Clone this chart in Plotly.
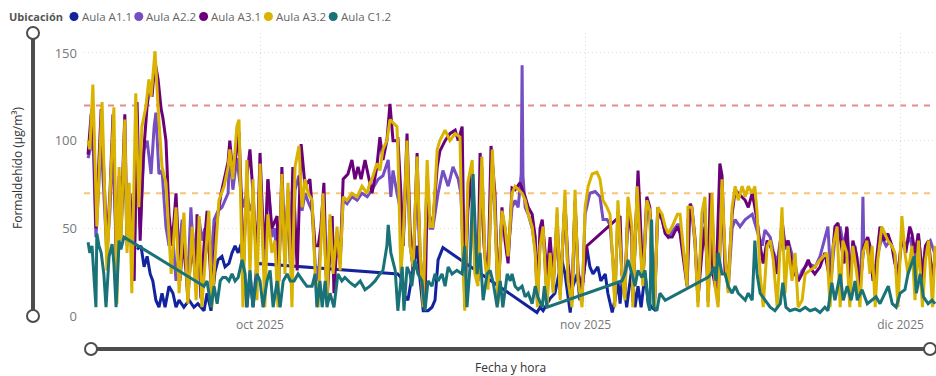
import pandas as pd
import plotly.graph_objects as go

# Formaldehído por aula, muestreado en horas desde el 14-09-2025 00:00
inicio = pd.Timestamp("2025-09-14 00:00")

horas_a11 = [127,136,143,150,157,163,170,177,184,191,200,209,216,223,234,246,257,266,280,287,
             296,305,312,321,328,337,344,351,358,365,369,378,385,392,401,
             723,730,737,746,753,760,767,774,781,792,801,808,815,826,
             1041,1048,1055,1064,1071,1082,1091,1098,1105,1112,1117,1123,1133,1139,1146,1155,1162,1169,1180,1187,
             1197,1203,1213,1219,1226,1231,1237,1246,1258,1265,1272,1279,1288,1295,1303,1313]
valores_a11 = [38,40,28,34,24,20,9,5,13,5,17,13,5,9,5,9,5,7,3,13,
               3,25,32,34,28,30,36,40,36,41,28,5,24,5,30,
               24,22,12,9,20,30,40,20,3,3,5,9,32,39,
               2,5,3,7,10,13,24,32,24,10,2,17,24,9,20,39,28,24,28,20,
               24,13,2,9,20,7,24,5,28,5,17,5,24,8,5,3]

horas_a22 = [15,22,26,33,45,51,58,65,72,81,86,90,99,104,111,120,127,134,143,150,
             159,166,170,177,184,193,200,207,216,230,237,243,250,257,262,269,275,282,289,296,
             303,312,321,335,
             339,346,355,362,369,378,385,392,401,408,419,426,435,442,449,458,465,472,481,488,
             497,504,511,518,527,534,541,552,561,568,575,584,591,598,607,618,630,641,653,
             664,678,689,701,707,712,721,728,735,744,751,758,767,774,781,790,797,803,815,826,
             838,849,861,867,872,876,883,893,899,906,915,922,929,939,945,952,961,
             968,975,984,991,998,1005,1007,1009,1014,1021,1030,1037,1042,1048,1055,1064,1071,1078,1087,1094,
             1105,1112,1121,1128,1135,1144,1151,1162,1174,1185,1192,1201,1208,1215,1219,1226,1235,1242,1249,1258,
             1260,1270,1276,1283,1292,
             1299,1303,1310,1317,1327,1334,1341,1350,1362,1368,1375,1384,1386,1395,1402,1409,1418,1425,1432,1441,
             1448,1455,1464,1471,1478,1487,1494,1505,1517,1533,1539,1546,1556,1562,1574,1581,1590,1597,1608,1615,
             1624,1631,1638,1647,1661,1677,1688,1706,1713,1722,1734,1741,1750,1756,1768,1779,1784,1786,1788,1795,
             1802,1814,1820,1829,1839,1848,1859,1866,1875,1884,1894,1905,1912,1922,1929,1940,1951]
valores_a22 = [90,97,105,45,100,70,35,60,100,20,70,45,95,40,60,20,95,50,95,100,
               81,108,116,81,83,51,40,51,20,55,38,20,62,30,47,55,43,50,40,30,
               55,60,62,70,
               95,72,90,75,62,70,60,65,30,80,20,78,45,50,20,70,30,72,20,72,
               80,60,70,65,60,30,20,65,15,55,30,48,30,66,64,68,66,70,68,
               72,78,80,89,68,83,70,62,40,90,40,28,85,36,10,80,50,50,70,83,
               74,85,78,70,40,8,70,82,28,20,85,35,18,88,58,10,58,
               50,35,62,66,62,81,143,80,62,58,50,38,8,42,48,10,38,15,58,12,
               66,22,8,66,22,8,58,70,71,68,55,55,52,30,8,60,26,12,60,48,
               8,68,45,20,60,
               58,28,8,58,55,48,45,48,52,52,38,20,55,58,42,8,52,62,8,62,
               20,8,70,32,15,50,55,51,55,58,53,47,40,49,45,37,30,43,38,43,
               35,30,20,26,30,28,34,51,20,45,51,40,50,25,40,20,40,68,40,40,
               30,20,35,45,40,43,35,20,45,40,45,30,47,25,40,43,35]

horas_a31 = [15,22,26,33,45,51,58,65,72,81,86,90,99,104,111,120,127,134,141,150,
             157,161,168,175,182,186,193,200,207,216,225,232,239,243,253,262,264,273,280,287,
             298,307,319,328,335,
             339,346,355,360,365,369,378,385,392,397,401,408,415,419,426,435,447,451,458,465,
             472,477,483,493,502,511,522,527,534,541,547,554,561,573,577,584,591,598,609,618,
             625,632,639,648,655,
             664,675,682,689,698,705,712,721,723,730,735,744,751,758,767,774,781,785,790,797,
             803,813,819,831,842,854,861,870,874,876,883,893,899,906,911,920,929,936,945,952,
             961,
             968,975,984,991,1002,1014,1021,1030,1037,1042,1048,1053,1064,1071,1078,1087,1094,1105,1112,1121,
             1128,1135,1144,1155,1231,1235,1242,1249,1258,1260,1272,1276,1283,1292,
             1299,1303,1310,1317,1327,1334,1341,1350,1362,1368,1375,1384,1391,1395,1402,1409,1418,1425,1432,1437,
             1443,1450,1459,1464,1471,1478,1487,1494,1501,1510,1517,1524,1533,1539,1546,1551,1558,1567,1574,1581,
             1590,1597,1601,1608,1615,
             1624,1631,1638,1647,1654,1661,1670,1676,1688,1699,1711,1722,1729,1736,1743,1749,1756,1763,1772,1779,
             1788,1797,1802,1809,1816,1825,1834,1843,1852,1859,1866,1875,1884,1893,1898,1905,1913,1922,1929,1936,
             1945,1951]
valores_a31 = [92,115,120,50,118,80,40,70,115,20,80,50,115,45,70,20,122,43,90,120,
               133,125,145,135,118,113,100,58,40,70,20,43,25,10,45,15,58,10,40,60,
               10,50,70,80,88,
               100,80,95,105,70,20,80,95,70,51,30,93,50,38,78,50,57,20,85,34,
               70,30,85,26,98,74,78,62,40,40,50,76,9,57,13,43,30,78,81,89,
               78,85,78,89,81,
               70,85,102,89,100,121,100,100,102,70,40,104,50,24,93,24,10,5,66,55,
               53,85,94,100,104,106,100,108,40,5,60,81,30,20,93,40,20,97,70,10,
               62,
               43,30,73,72,76,68,62,58,45,10,50,55,24,45,20,53,15,65,30,10,
               65,25,15,40,57,24,15,62,45,10,83,62,20,68,
               62,30,10,62,55,47,45,45,51,47,35,17,64,62,45,10,36,51,20,70,
               24,15,87,80,24,20,58,72,70,68,66,62,70,62,51,40,30,43,40,36,
               24,40,55,40,43,
               28,24,20,24,28,32,26,24,28,36,20,51,53,40,30,51,20,43,34,15,
               40,45,40,20,30,51,43,47,40,30,24,45,36,51,47,36,47,20,40,43,
               20,36]

horas_a32 = [15,19,26,35,47,58,67,74,81,86,90,99,104,109,115,124,131,138,147,154,
             159,168,175,184,193,205,216,223,234,243,253,262,269,275,291,298,314,326,335,
             339,346,355,360,365,369,378,385,392,401,408,419,426,435,442,449,458,465,472,481,
             488,497,504,511,518,527,534,541,552,561,568,575,584,591,598,607,618,630,641,653,
             659,664,675,682,689,698,705,712,721,723,730,735,744,751,758,767,774,781,790,797,
             803,813,819,831,842,854,865,870,876,883,893,899,906,915,922,929,939,945,952,961,
             968,975,984,991,998,1007,1014,1021,1030,1037,1042,1048,1055,1064,1071,1078,1087,1094,1105,1112,
             1121,1128,1135,1144,1151,1158,1167,1178,1185,1192,1201,1208,1215,1219,1226,1235,1242,1249,1258,1260,
             1270,1276,1283,1292,
             1299,1303,1310,1317,1327,1334,1341,1350,1362,1368,1375,1384,1386,1395,1402,1409,1418,1425,1432,1441,
             1448,1455,1464,1471,1478,1487,1494,1501,1510,1517,1524,1533,1539,1544,1551,1558,1567,1574,1581,1590,
             1601,1608,1615,
             1624,1631,1638,1647,1654,1665,1676,1688,1704,1711,1718,1727,1734,1740,1749,1756,1763,1772,1779,1786,
             1795,1802,1807,1814,1820,1829,1836,1843,1852,1859,1866,1875,1882,1889,1898,1905,1913,1922,1929,1936,
             1945,1951]
valores_a32 = [100,95,132,51,122,26,80,119,7,85,43,112,36,76,13,127,62,108,119,135,
               125,151,119,85,76,24,62,13,59,7,51,9,57,5,60,5,66,74,85,
               95,78,108,112,60,5,89,24,78,9,87,5,58,36,43,5,81,24,76,5,
               85,97,62,78,70,66,24,5,70,7,58,24,51,26,68,66,70,68,74,70,
               76,78,87,83,95,100,112,110,108,95,24,43,100,40,28,91,36,5,89,51,
               51,95,100,106,100,104,102,43,3,76,89,24,17,91,32,15,95,59,7,60,
               51,34,70,74,72,70,66,58,51,36,5,40,51,5,36,13,62,9,72,20,
               5,72,20,5,62,74,81,82,78,66,62,58,28,5,66,24,9,68,51,5,
               74,43,17,66,
               60,24,5,62,58,51,47,51,58,58,40,17,62,62,43,5,59,68,5,70,
               17,5,78,34,13,62,74,66,74,68,74,70,74,59,24,5,40,43,32,5,
               62,13,40,
               20,36,5,9,24,26,28,32,36,5,40,51,5,43,36,5,40,24,5,36,
               43,24,40,5,32,51,47,43,40,36,5,57,36,24,40,9,43,5,32,43,
               5,40]

horas_c12 = [15,19,24,29,33,35,40,45,51,56,63,70,74,79,86,90,97,
             280,287,296,303,310,317,323,330,337,344,351,358,367,374,378,385,392,401,408,415,
             424,431,438,447,454,461,470,477,486,495,506,515,527,534,538,545,550,557,561,568,
             577,586,595,602,614,625,637,648,659,
             671,682,689,698,701,707,717,723,733,737,744,751,755,762,769,778,785,792,801,808,
             815,824,831,838,847,858,870,876,881,888,895,904,911,918,927,934,941,950,957,963,
             973,980,984,991,998,1007,1014,1021,1030,1037,1043,1053,1058,1064,
             1235,1242,1249,1258,1265,1272,1281,1288,1295,1299,1303,1308,1315,1322,1334,
             1432,1439,1446,1450,1455,1464,1471,1478,1487,1494,1501,1510,1517,1524,1533,1539,1544,1551,1562,1574,
             1585,1597,1603,1610,1619,1631,1642,1654,1665,1677,1688,1699,1706,1715,1722,1734,1741,1750,1759,1768,
             1773,1784,1796,1807,1816,1825,1837,1844,1853,1862,1871,1882,1889,1903,1908,1917,1924,1935,1944,1951]
valores_c12 = [42,36,40,20,5,47,40,36,24,5,34,41,30,5,43,38,45,
               17,20,5,17,7,20,22,22,20,24,20,22,32,24,5,26,5,24,20,5,
               20,26,5,20,5,20,24,20,20,24,20,17,17,24,5,20,5,20,5,13,
               5,24,20,22,19,17,20,15,17,
               20,24,26,40,52,36,26,3,28,3,28,24,17,32,24,20,3,20,17,24,
               20,24,17,28,24,26,24,40,5,28,81,24,36,9,24,26,19,5,20,5,
               24,20,24,17,15,17,11,13,7,17,11,5,17,5,
               20,24,32,24,17,26,22,26,7,3,55,5,3,13,9,
               22,24,28,20,36,24,24,17,13,17,13,11,9,13,9,43,24,13,9,5,
               3,7,19,5,3,4,3,5,3,4,2,5,3,19,9,24,9,17,9,20,
               9,15,7,9,11,7,13,17,7,5,13,15,24,34,13,24,11,7,9,7]

aulas = ["Aula A1.1", "Aula A2.2", "Aula A3.1", "Aula A3.2", "Aula C1.2"]
colores = ["#12239E", "#744EC2", "#6B007B", "#D9B300", "#197278"]
series = [(horas_a11, valores_a11), (horas_a22, valores_a22), (horas_a31, valores_a31),
          (horas_a32, valores_a32), (horas_c12, valores_c12)]

# Umbrales de referencia (µg/m³)
umbral_alto = 120
umbral_medio = 70

meses = ["2025-10-01", "2025-11-01", "2025-12-01"]
etiquetas_meses = ["oct 2025", "nov 2025", "dic 2025"]
marcas_y = [0, 50, 100, 150]

FUENTE = "Segoe UI, Open Sans, sans-serif"
GRIS_TEXTO = "#777777"
GRIS_REJILLA = "#DDDDDD"

fig = go.Figure()
for nombre, color, (h, v) in zip(aulas, colores, series):
    fig.add_trace(go.Scatter(
        x=inicio + pd.to_timedelta(h, unit="h"), y=v, mode="lines", name=nombre,
        line=dict(color=color, width=3), showlegend=False, hoverinfo="skip"))

# Líneas de umbral discontinuas
for nivel, color in [(umbral_alto, "#E58B8B"), (umbral_medio, "#F6C57A")]:
    fig.add_shape(type="line", xref="paper", x0=0, x1=1, yref="y", y0=nivel, y1=nivel,
                  line=dict(color=color, width=2, dash="6px,6px"), layer="below")

# Posiciones en píxeles del lienzo convertidas a coordenadas de papel
def px_x(p):
    return (p - 84) / 852
def px_y(p):
    return (316 - p) / 283

# Controles deslizantes de zoom de los ejes
GRIS_BARRA = "#4D4D4D"
fig.add_shape(type="line", xref="paper", yref="paper", x0=px_x(33), x1=px_x(33),
              y0=px_y(316), y1=px_y(33), line=dict(color=GRIS_BARRA, width=4))
fig.add_shape(type="line", xref="paper", yref="paper", x0=px_x(91), x1=px_x(930),
              y0=px_y(349), y1=px_y(349), line=dict(color=GRIS_BARRA, width=4))
for cx, cy in [(33, 33), (33, 316), (91, 349), (930, 349)]:
    fig.add_shape(type="circle", xref="paper", yref="paper", xsizemode="pixel", ysizemode="pixel",
                  xanchor=px_x(cx), yanchor=px_y(cy), x0=-6, x1=6, y0=-6, y1=6,
                  line=dict(color=GRIS_BARRA, width=2), fillcolor="white")

# Leyenda: título, marcador circular y nombre de cada aula
FILA_LEYENDA = px_y(16.5)
fig.add_annotation(text="<b>Ubicación</b>", xref="paper", yref="paper", x=px_x(7), y=FILA_LEYENDA,
                   xanchor="left", yanchor="middle", showarrow=False,
                   font=dict(family=FUENTE, size=11, color="#555555"))
for i, (nombre, color) in enumerate(zip(aulas, colores)):
    cx = 74 + i * 64.8
    fig.add_shape(type="circle", xref="paper", yref="paper", xsizemode="pixel", ysizemode="pixel",
                  xanchor=px_x(cx), yanchor=FILA_LEYENDA, x0=-4.5, x1=4.5, y0=-4.5, y1=4.5,
                  line=dict(width=0), fillcolor=color)
    fig.add_annotation(text=nombre, xref="paper", yref="paper", x=px_x(cx + 5.5), y=FILA_LEYENDA,
                       xanchor="left", yanchor="middle", showarrow=False,
                       font=dict(family=FUENTE, size=11.5, color="#666666"))

fig.add_annotation(text="Formaldehído (µg/m³)", xref="paper", yref="paper", x=px_x(18), y=px_y(168),
                   textangle=-90, xanchor="center", yanchor="middle", showarrow=False,
                   font=dict(family=FUENTE, size=12, color="#333333"))
fig.add_annotation(text="Fecha y hora", xref="paper", yref="paper", x=px_x(511), y=px_y(367),
                   xanchor="center", yanchor="middle", showarrow=False,
                   font=dict(family=FUENTE, size=12, color="#333333"))

fig.update_layout(
    width=936, height=376, margin=dict(l=84, r=0, t=33, b=60),
    paper_bgcolor="white", plot_bgcolor="white", showlegend=False,
    font=dict(family=FUENTE, size=12, color=GRIS_TEXTO),
    xaxis=dict(type="date",
               range=[inicio + pd.Timedelta(hours=5.7), inicio + pd.Timedelta(hours=1953)],
               tickvals=meses, ticktext=etiquetas_meses, showgrid=True, gridcolor=GRIS_REJILLA,
               griddash="1px,3px", gridwidth=1, zeroline=False, showline=False, ticks="",
               tickfont=dict(size=12, color=GRIS_TEXTO)),
    yaxis=dict(range=[0, 161.4], tickvals=marcas_y, showgrid=True, gridcolor=GRIS_REJILLA,
               griddash="1px,3px", gridwidth=1, zeroline=False, showline=False, ticks="",
               tickfont=dict(size=13, color=GRIS_TEXTO), ticklabelstandoff=6),
)

fig.write_html("out.html")
